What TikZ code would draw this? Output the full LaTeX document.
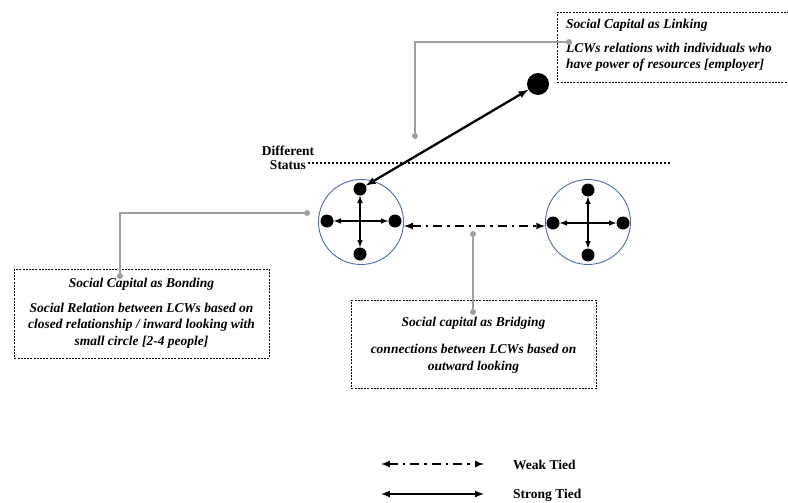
\documentclass[tikz,border=0pt]{standalone}
\usepackage{fontspec}
\setmainfont{Liberation Serif}
\usetikzlibrary{positioning}
\definecolor{groupblue}{HTML}{4A6FA8}

\begin{document}
\begin{tikzpicture}[x=1pt, y=-1pt,
  person/.style={circle, fill=black, inner sep=0pt, minimum size=13pt},
  groupring/.style={circle, draw=groupblue, line width=0.9pt, inner sep=0pt, minimum size=85pt},
  strongtie/.style={latex-latex, line width=1.5pt},
  weaktie/.style={latex-latex, line width=2pt, dash pattern=on 9pt off 5pt on 2.5pt off 5pt},
  callout/.style={draw=gray!75, line width=1.4pt},
  calldot/.style={circle, fill=gray!75, inner sep=0pt, minimum size=6pt},
  infobox/.style={draw, dash pattern=on 2pt off 1.2pt, line width=0.8pt, anchor=north west, inner sep=0pt},
  boxtext/.style={font=\fontsize{13.5}{16.5}\selectfont\bfseries\itshape, inner sep=0pt},
  plaintext/.style={font=\fontsize{13.5}{14}\selectfont\bfseries, inner sep=0pt}]
\useasboundingbox (0,0) rectangle (788,503);
\clip (0,0) rectangle (788,503);

% text boxes
\node[infobox, minimum width=260pt, minimum height=70pt] (linkbox) at (557,12) {};
\node[infobox, minimum width=255pt, minimum height=89pt] (bondbox) at (14,269) {};
\node[infobox, minimum width=245pt, minimum height=88pt] (bridgebox) at (351,300) {};

\node[boxtext, anchor=west] (linktitle) at (566,25) {Social Capital as Linking};
\node[boxtext, anchor=west, align=left] (linkbody) at (566,57.5) {LCWs relations with individuals who\\have power of resources [employer]};
\node[boxtext] (bondtitle) at (141.5,284) {Social Capital as Bonding};
\node[boxtext, align=center] (bondbody) at (141.5,325.5) {Social Relation between LCWs based on\\closed relationship / inward looking with\\small circle [2-4 people]};
\node[boxtext] (bridgetitle) at (473.5,323) {Social capital as Bridging};
\node[boxtext, align=center] (bridgebody) at (473.5,359) {connections between LCWs based on\\outward looking};

% status line
\node[plaintext] (diff) at (288,151) {Different};
\node[plaintext] (status) at (288,165) {Status};
\coordinate (statusL) at (308,163);
\coordinate (statusR) at (671,163);
\draw[line width=2.2pt, dash pattern=on 2pt off 2pt] (statusL) -- (statusR);

% groups
\node[groupring] (G1) at (361,222) {};
\node[groupring] (G2) at (588,222) {};
\node[person] (G1t) at ([shift={(-1,-33)}]G1.center) {};
\node[person] (G1b) at ([shift={(-1,32)}]G1.center) {};
\node[person] (G1l) at ([shift={(-34,-1)}]G1.center) {};
\node[person] (G1r) at ([shift={(34,-1)}]G1.center) {};
\node[person] (G2t) at ([shift={(0,-32)}]G2.center) {};
\node[person] (G2b) at ([shift={(0,33)}]G2.center) {};
\node[person] (G2l) at ([shift={(-35,1)}]G2.center) {};
\node[person] (G2r) at ([shift={(35,1)}]G2.center) {};
\node[person, minimum size=22pt] (boss) at (538,84) {};

\draw[strongtie] (G1l) -- (G1r);
\draw[strongtie] (G1t) -- (G1b);
\draw[strongtie] (G2l) -- (G2r);
\draw[strongtie] (G2t) -- (G2b);
\draw[strongtie, line width=2.3pt] (G1t) -- (boss);
\draw[weaktie] ([yshift=-4pt]G1.east) -- ([yshift=-4pt]G2.west);

% callouts
\node[calldot] (linkdot) at (569,42) {};
\node[calldot] (linkend) at (415,136) {};
\draw[callout] (linkdot) -| (linkend);
\node[calldot] (bonddot) at (307,213) {};
\node[calldot] (bondend) at (120,276) {};
\draw[callout] (bonddot) -| (bondend);
\node[calldot] (bridgedot) at (473,234) {};
\node[calldot] (bridgeend) at (473,312) {};
\draw[callout] (bridgedot) -- (bridgeend);

% legend
\coordinate (weakL) at (381,464);
\coordinate (weakR) at (484,464);
\coordinate (strongL) at (381,494);
\coordinate (strongR) at (484,494);
\draw[weaktie] (weakL) -- (weakR);
\draw[strongtie, line width=2pt] (strongL) -- (strongR);
\node[plaintext, anchor=west] (weaklabel) at (513,465) {Weak Tied};
\node[plaintext, anchor=west] (stronglabel) at (513,495) {Strong Tied};
\end{tikzpicture}
\end{document}
